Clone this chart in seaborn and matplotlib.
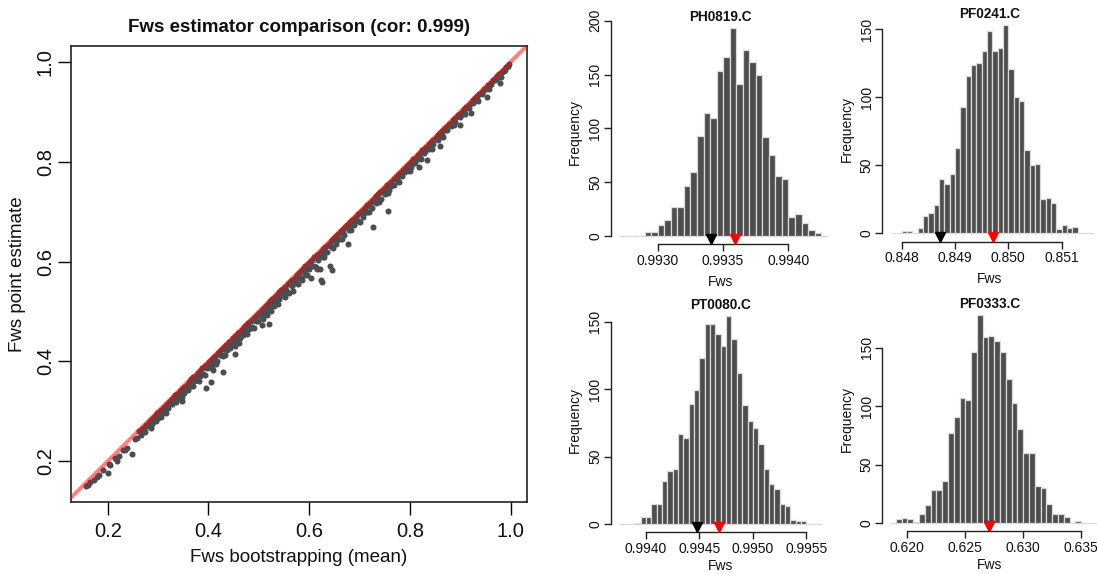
import numpy as np
import pandas as pd
import matplotlib
matplotlib.use("Agg")
import matplotlib.pyplot as plt
import seaborn as sns

# ---------------- data ----------------
boot_mean = [
    0.262, 0.270, 0.281, 0.289, 0.298, 0.306, 0.317, 0.325, 0.334, 0.343, 0.351, 0.362, 0.370, 0.379,
    0.388, 0.396, 0.405, 0.414, 0.423, 0.431, 0.440, 0.449, 0.458, 0.466, 0.475, 0.484, 0.492, 0.501,
    0.510, 0.519, 0.527, 0.536, 0.545, 0.553, 0.562, 0.571, 0.580, 0.588, 0.597, 0.606, 0.615, 0.623,
    0.632, 0.641, 0.650, 0.658, 0.667, 0.676, 0.685, 0.693, 0.702, 0.711, 0.720, 0.728, 0.737, 0.746,
    0.755, 0.763, 0.772, 0.781, 0.790, 0.798, 0.807, 0.816, 0.825, 0.833, 0.842, 0.851, 0.860, 0.868,
    0.877, 0.886, 0.895, 0.903, 0.912, 0.921, 0.930, 0.938, 0.947, 0.956, 0.965, 0.973, 0.982, 0.991,
    0.997,
    0.165, 0.178, 0.190, 0.205, 0.214, 0.222, 0.230, 0.238, 0.255, 0.258, 0.266, 0.272, 0.275, 0.283,
    0.287, 0.293, 0.300, 0.308, 0.312, 0.320, 0.328, 0.331, 0.338, 0.345, 0.352, 0.357, 0.366, 0.372,
    0.376, 0.384, 0.390, 0.398, 0.403, 0.410, 0.418, 0.425, 0.428, 0.436, 0.443, 0.447, 0.455, 0.462,
    0.468, 0.472, 0.480, 0.487, 0.494, 0.498, 0.505, 0.514, 0.522, 0.530, 0.534, 0.541, 0.548, 0.556,
    0.566, 0.574, 0.583, 0.591, 0.600, 0.610, 0.618, 0.627, 0.635, 0.645, 0.653, 0.662, 0.670, 0.680,
    0.689, 0.697, 0.706, 0.715, 0.724, 0.733, 0.742, 0.750, 0.759, 0.768, 0.776, 0.785, 0.794, 0.803,
    0.811, 0.820, 0.829, 0.838, 0.846, 0.855, 0.864, 0.873, 0.882, 0.890, 0.899, 0.908, 0.917, 0.926,
    0.934, 0.943, 0.952, 0.961, 0.969, 0.978, 0.986, 0.994,
    0.285, 0.296, 0.305, 0.315, 0.336, 0.348, 0.360, 0.369, 0.381, 0.393, 0.407, 0.415, 0.433, 0.452,
    0.460, 0.477, 0.490, 0.508, 0.517, 0.525, 0.538, 0.552, 0.560, 0.577, 0.586, 0.595, 0.613, 0.630,
    0.648, 0.665, 0.684, 0.700, 0.719, 0.738, 0.757, 0.779, 0.800, 0.822, 0.843, 0.866, 0.888, 0.910,
    0.935, 0.958, 0.980,
    0.7556, 0.7258, 0.6768, 0.6417, 0.645, 0.6252, 0.6238, 0.6152, 0.6212, 0.6033, 0.5689, 0.5205,
    0.5073, 0.453, 0.4298, 0.4046, 0.3947, 0.4099, 0.347, 0.249, 0.2344, 0.219, 0.2013, 0.2026,
    0.1834, 0.1735, 0.1616, 0.157, 0.9219, 0.900, 0.8603, 0.8338, 0.8172, 0.953, 0.9795,
    0.266, 0.2755, 0.285, 0.2935, 0.302, 0.3115, 0.321, 0.3295, 0.3385, 0.347, 0.3565, 0.366, 0.3745,
    0.3835, 0.392, 0.4005, 0.4095, 0.4185, 0.427, 0.4355, 0.4445, 0.4535, 0.462, 0.4705, 0.4795,
    0.488, 0.4965, 0.5055, 0.5145, 0.523, 0.5315, 0.5405, 0.549, 0.5575, 0.5665, 0.5755, 0.584,
    0.5925, 0.6015, 0.6105, 0.619, 0.6275, 0.6365, 0.6455, 0.654, 0.6625, 0.6715, 0.6805, 0.689,
    0.6975, 0.7065, 0.7155, 0.724, 0.7325, 0.7415, 0.7505, 0.759, 0.7675, 0.7765, 0.7855, 0.794,
    0.8025, 0.8115, 0.8205, 0.829, 0.8375, 0.8465, 0.8555, 0.864, 0.8725, 0.8815, 0.8905, 0.899,
    0.9075, 0.9165, 0.9255, 0.934, 0.9425, 0.9515, 0.9605, 0.969, 0.9775, 0.9865, 0.994,
    0.268, 0.279, 0.291, 0.303, 0.314, 0.326, 0.339, 0.350, 0.363, 0.374, 0.386, 0.399, 0.411, 0.422,
    0.435, 0.446, 0.457, 0.470, 0.482, 0.493, 0.506, 0.518, 0.529, 0.543, 0.555, 0.568, 0.579, 0.592,
    0.604, 0.617, 0.629, 0.642, 0.655, 0.668, 0.681, 0.694, 0.708, 0.721, 0.735, 0.748, 0.762, 0.775,
    0.789, 0.802, 0.816, 0.830, 0.844, 0.858, 0.872, 0.886, 0.901, 0.915, 0.930, 0.944, 0.959, 0.973,
    0.988,
]
point_est = [
    0.260, 0.267, 0.279, 0.286, 0.296, 0.303, 0.315, 0.322, 0.332, 0.340, 0.349, 0.359, 0.368, 0.376,
    0.386, 0.393, 0.403, 0.411, 0.421, 0.428, 0.438, 0.446, 0.456, 0.463, 0.473, 0.481, 0.490, 0.498,
    0.508, 0.516, 0.525, 0.533, 0.543, 0.550, 0.560, 0.568, 0.578, 0.585, 0.595, 0.603, 0.613, 0.620,
    0.630, 0.638, 0.648, 0.655, 0.665, 0.673, 0.683, 0.690, 0.700, 0.708, 0.718, 0.725, 0.735, 0.743,
    0.753, 0.760, 0.770, 0.778, 0.788, 0.795, 0.805, 0.813, 0.823, 0.830, 0.840, 0.848, 0.858, 0.865,
    0.875, 0.883, 0.893, 0.900, 0.910, 0.918, 0.928, 0.935, 0.945, 0.953, 0.963, 0.971, 0.980, 0.989,
    0.996,
    0.158, 0.168, 0.182, 0.193, 0.207, 0.210, 0.222, 0.226, 0.244, 0.247, 0.252, 0.262, 0.258, 0.270,
    0.274, 0.283, 0.287, 0.296, 0.298, 0.307, 0.315, 0.320, 0.324, 0.333, 0.337, 0.345, 0.350, 0.360,
    0.362, 0.371, 0.375, 0.386, 0.389, 0.397, 0.401, 0.413, 0.410, 0.422, 0.427, 0.433, 0.441, 0.446,
    0.452, 0.460, 0.465, 0.470, 0.481, 0.482, 0.491, 0.498, 0.507, 0.512, 0.520, 0.525, 0.534, 0.539,
    0.551, 0.557, 0.567, 0.574, 0.585, 0.592, 0.603, 0.610, 0.619, 0.629, 0.636, 0.646, 0.654, 0.663,
    0.673, 0.681, 0.690, 0.699, 0.707, 0.718, 0.726, 0.736, 0.744, 0.754, 0.762, 0.771, 0.781, 0.790,
    0.798, 0.808, 0.817, 0.826, 0.835, 0.844, 0.853, 0.863, 0.872, 0.880, 0.890, 0.899, 0.908, 0.918,
    0.926, 0.936, 0.945, 0.955, 0.964, 0.973, 0.982, 0.991,
    0.266, 0.280, 0.288, 0.297, 0.318, 0.328, 0.342, 0.351, 0.361, 0.373, 0.387, 0.394, 0.412, 0.430,
    0.437, 0.455, 0.468, 0.486, 0.494, 0.502, 0.516, 0.530, 0.538, 0.555, 0.564, 0.573, 0.590, 0.609,
    0.627, 0.645, 0.663, 0.680, 0.700, 0.719, 0.738, 0.760, 0.782, 0.805, 0.826, 0.850, 0.873, 0.896,
    0.921, 0.946, 0.970,
    0.7007, 0.6686, 0.6352, 0.5917, 0.583, 0.5596, 0.5629, 0.5844, 0.5844, 0.5676, 0.5416, 0.4754,
    0.4727, 0.4159, 0.3785, 0.3584, 0.3464, 0.3825, 0.321, 0.214, 0.222, 0.200, 0.1773, 0.1953,
    0.1719, 0.1632, 0.1532, 0.150, 0.8979, 0.8738, 0.8317, 0.8036, 0.7902, 0.9306, 0.9574,
    0.263, 0.2735, 0.282, 0.2915, 0.299, 0.3095, 0.318, 0.3275, 0.3355, 0.345, 0.3535, 0.364, 0.3715,
    0.3815, 0.389, 0.3985, 0.4065, 0.4165, 0.424, 0.4335, 0.4415, 0.4515, 0.459, 0.4685, 0.4765,
    0.486, 0.4935, 0.5035, 0.5115, 0.521, 0.5285, 0.5385, 0.546, 0.5555, 0.5635, 0.5735, 0.581,
    0.5905, 0.5985, 0.6085, 0.616, 0.6255, 0.6335, 0.6435, 0.651, 0.6605, 0.6685, 0.6785, 0.686,
    0.6955, 0.7035, 0.7135, 0.721, 0.7305, 0.7385, 0.7485, 0.756, 0.7655, 0.7735, 0.7835, 0.791,
    0.8005, 0.8085, 0.8185, 0.826, 0.8355, 0.8435, 0.8535, 0.861, 0.8705, 0.8785, 0.8885, 0.896,
    0.9055, 0.9135, 0.9235, 0.931, 0.9405, 0.9485, 0.9585, 0.966, 0.9755, 0.9835, 0.992,
    0.258, 0.270, 0.280, 0.294, 0.303, 0.317, 0.328, 0.341, 0.352, 0.365, 0.375, 0.389, 0.399, 0.413,
    0.423, 0.437, 0.446, 0.460, 0.470, 0.484, 0.494, 0.508, 0.517, 0.533, 0.543, 0.558, 0.567, 0.582,
    0.592, 0.607, 0.617, 0.632, 0.644, 0.658, 0.670, 0.684, 0.697, 0.711, 0.724, 0.738, 0.752, 0.765,
    0.779, 0.793, 0.806, 0.821, 0.835, 0.849, 0.864, 0.878, 0.893, 0.908, 0.923, 0.938, 0.953, 0.968,
    0.984,
]
scatter_title = "Fws estimator comparison (cor: 0.999)"
scatter_xticks = [0.2, 0.4, 0.6, 0.8, 1.0]
scatter_yticks = [0.2, 0.4, 0.6, 0.8, 1.0]

# histogram panels (counts include empty bins at both ends of the break range)
sample_names = ["PH0819.C", "PF0241.C", "PT0080.C", "PF0333.C"]
break_start = [0.99270, 0.8478, 0.99375, 0.6185]
bin_width = [0.00005, 0.0001, 0.00005, 0.0005]
counts_PH0819 = [0, 0, 0, 0, 4, 4, 10, 15, 27, 27, 46, 59, 93, 114, 110, 153, 166, 193, 141, 173,
                 162, 150, 92, 75, 56, 53, 18, 20, 12, 6, 3, 0]
counts_PF0241 = [0, 0, 2, 2, 0, 4, 13, 15, 21, 40, 36, 44, 63, 93, 116, 124, 125, 134, 149, 134,
                 136, 153, 121, 100, 97, 61, 50, 51, 25, 26, 22, 3, 6, 4, 5, 0, 0, 0]
counts_PT0080 = [0, 0, 0, 1, 5, 5, 15, 15, 32, 39, 41, 67, 64, 89, 99, 123, 148, 148, 141, 132,
                 154, 137, 112, 88, 76, 71, 59, 41, 30, 26, 15, 13, 3, 2, 2, 0, 0, 0]
counts_PF0333 = [0, 3, 4, 3, 1, 8, 15, 28, 28, 36, 77, 91, 107, 105, 146, 178, 159, 160, 156, 146,
                 123, 103, 80, 60, 60, 32, 30, 16, 8, 8, 5, 0, 2, 0, 0, 0]
hist_counts = [counts_PH0819, counts_PF0241, counts_PT0080, counts_PF0333]
boot_marker = [0.993406, 0.848725, 0.994474, 0.627054]
point_marker = [0.993589, 0.849706, 0.994686, 0.627054]
hist_xticks = [[0.9930, 0.9935, 0.9940],
               [0.848, 0.849, 0.850, 0.851],
               [0.9940, 0.9945, 0.9950, 0.9955],
               [0.620, 0.625, 0.630, 0.635]]
hist_xticklabels = [["0.9930", "0.9935", "0.9940"],
                    ["0.848", "0.849", "0.850", "0.851"],
                    ["0.9940", "0.9945", "0.9950", "0.9955"],
                    ["0.620", "0.625", "0.630", "0.635"]]
hist_yticks = [[0, 50, 100, 150, 200], [0, 50, 100, 150], [0, 50, 100, 150], [0, 50, 100, 150]]

# ---------------- style ----------------
sns.set_theme(style="white")
plt.rcParams["font.family"] = ["Liberation Sans", "DejaVu Sans"]
plt.rcParams["axes.linewidth"] = 1.0

W, H = 1097, 574
fig = plt.figure(figsize=(W / 100, H / 100), dpi=100)


def px_axes(left, right, top, bottom):
    return fig.add_axes([left / W, 1 - bottom / H, (right - left) / W, (bottom - top) / H])


# ---------------- scatter ----------------
ax = px_axes(70.7, 526.7, 46, 502)
df = pd.DataFrame({"boot": boot_mean, "point": point_est})
sns.scatterplot(data=df, x="boot", y="point", ax=ax, color="#4D4D4D", s=19,
                linewidth=0, zorder=2)
ax.axline((0.5, 0.5), slope=1, color="red", alpha=0.5, lw=2.9, zorder=3)
ax.set_xlim(0.1265, 1.032)
ax.set_ylim(0.1184, 1.032)
ax.set_xticks(scatter_xticks)
ax.set_xticklabels([f"{v:.1f}" for v in scatter_xticks])
ax.set_yticks(scatter_yticks)
ax.set_yticklabels([f"{v:.1f}" for v in scatter_yticks], rotation=90, va="center")
ax.tick_params(axis="both", direction="out", length=9.4, width=1.0, color="black",
               labelsize=14.5, labelcolor="#111111")
ax.tick_params(axis="x", pad=5, bottom=True)
ax.tick_params(axis="y", pad=2, left=True)
for sp in ax.spines.values():
    sp.set_visible(True)
    sp.set_color("#222222")
    sp.set_linewidth(1.2)
ax.set_xlabel("")
ax.set_ylabel("")
ax.text(0.5, -0.1228, "Fws bootstrapping (mean)", transform=ax.transAxes, ha="center",
        va="center", fontsize=13.5, color="#111111")
ax.text(-0.116, 0.5, "Fws point estimate", transform=ax.transAxes, ha="center",
        va="center", rotation=90, fontsize=13.5, color="#111111")
ax.text(0.5, 1.0406, scatter_title, transform=ax.transAxes, ha="center", va="center",
        fontsize=13.5, fontweight="bold", color="#111111")
ax.grid(False)

# ---------------- histograms ----------------
panel_px = [
    (610.7, 829.5, 19.9, 244.3),
    (882.0, 1096.9, 16.9, 241.7),
    (610.7, 829.5, 307.9, 532.3),
    (882.0, 1096.9, 306.6, 531.3),
]
panel_xlim = [
    (0.992640, 0.994314),
    (0.847631, 0.851660),
    (0.993670, 0.995717),
    (0.617815, 0.636350),
]
xlabel_y = [-0.168, -0.168, -0.150, -0.150]

for i in range(4):
    l, r, t, b = panel_px[i]
    hax = px_axes(l, r, t, b)
    counts = np.array(hist_counts[i], dtype=float)
    n = len(counts)
    lo = break_start[i]
    hi = break_start[i] + bin_width[i] * n
    centers = lo + bin_width[i] * (np.arange(n) + 0.5)
    hdf = pd.DataFrame({"fws": centers, "n": counts})
    sns.histplot(data=hdf, x="fws", weights="n", bins=n, binrange=(lo, hi), ax=hax,
                 color="#4D4D4D", edgecolor="#DADADA", linewidth=0.9, alpha=1.0,
                 stat="count")
    cmax = counts.max()
    hax.set_xlim(*panel_xlim[i])
    hax.set_ylim(-0.04 * cmax, 1.04 * cmax)
    ym = -0.016 * cmax
    hax.plot([boot_marker[i]], [ym], marker="v", ms=6.5, color="black", ls="none",
             clip_on=False, zorder=5)
    hax.plot([point_marker[i]], [ym], marker="v", ms=6.5, color="red", ls="none",
             clip_on=False, zorder=6)
    hax.set_xticks(hist_xticks[i])
    hax.set_xticklabels(hist_xticklabels[i])
    hax.set_yticks(hist_yticks[i])
    hax.set_yticklabels([str(v) for v in hist_yticks[i]], rotation=90, va="center")
    for name in ["top", "right"]:
        hax.spines[name].set_visible(False)
    hax.spines["left"].set_bounds(hist_yticks[i][0], hist_yticks[i][-1])
    hax.spines["bottom"].set_bounds(hist_xticks[i][0], hist_xticks[i][-1])
    for name in ["left", "bottom"]:
        hax.spines[name].set_color("#222222")
        hax.spines[name].set_linewidth(1.0)
    hax.tick_params(axis="both", direction="out", length=5, width=1.0, color="#222222",
                    labelsize=10, labelcolor="#111111", bottom=True, left=True)
    hax.tick_params(axis="x", pad=2)
    hax.tick_params(axis="y", pad=1)
    hax.set_xlabel("")
    hax.set_ylabel("")
    hax.text(0.5, xlabel_y[i], "Fws", transform=hax.transAxes, ha="center", va="center",
             fontsize=10, color="#111111")
    hax.text(-0.164, 0.5, "Frequency", transform=hax.transAxes, ha="center", va="center",
             rotation=90, fontsize=10, color="#111111")
    hax.text(0.5, 1.012, sample_names[i], transform=hax.transAxes, ha="center", va="center",
             fontsize=9.8, fontweight="bold", color="#111111")
    hax.grid(False)
    hax.patch.set_alpha(0)

fig.savefig("out.png", dpi=100)
